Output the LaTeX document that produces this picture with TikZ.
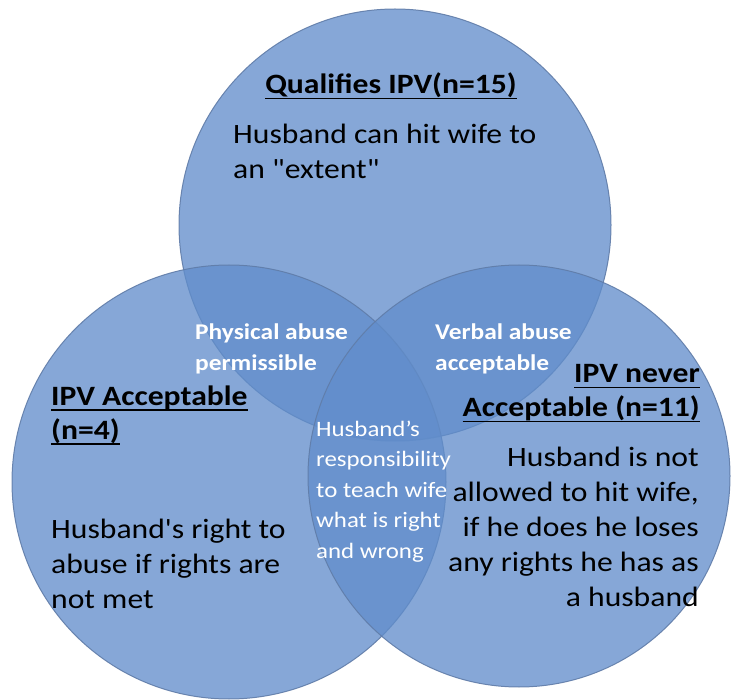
\documentclass[tikz,border=0pt]{standalone}
\usepackage{fontspec}
\setmainfont{Carlito}[Ligatures=TeXOff, FakeStretch=1.13]
\usetikzlibrary{positioning}
\definecolor{vennblue}{RGB}{97,141,203}
\definecolor{vennrim}{RGB}{96,124,168}
\newcommand{\ulbar}[1]{\setbox0\hbox{#1}\rlap{\rule[-5.5pt]{\wd0}{1.8pt}}\box0}

\begin{document}
\begin{tikzpicture}[x=1pt, y=-1pt,
        venn/.style={circle, draw=vennrim, line width=1pt, fill=vennblue, fill opacity=0.77,
                     draw opacity=0.9, inner sep=0pt, minimum size=#1},
        title/.style={font=\fontsize{28}{34}\selectfont\bfseries, inner sep=0pt},
        body/.style={font=\fontsize{28}{35}\selectfont, inner sep=0pt},
        overlap/.style={font=\fontsize{22.5}{31}\selectfont\bfseries, text=white, inner sep=0pt, align=left},
        centre/.style={font=\fontsize{22}{30.5}\selectfont, text=white, inner sep=0pt, align=left}]
    \useasboundingbox (0,0) rectangle (731,700);
    % the three sets
    \node[venn=432pt] (qualifies) at (395,225) {};
    \node[venn=434pt] (acceptable) at (229,482) {};
    \node[venn=422pt] (never) at (519,476) {};
    % titles and texts of the sets
    \node[title, anchor=base] (qualtitle) at (391,94) {\ulbar{Qualifies IPV(n=15)}};
    \node[body, anchor=base west, align=left] (qualtext) at (233,179)
        {Husband can hit wife to\\an "extent"};
    \node[title, anchor=base west, align=left] (acctitle) at (51,439)
        {\ulbar{IPV Acceptable}\\\ulbar{(n=4)}};
    \node[body, anchor=base west, align=left] (acctext) at (51,608)
        {Husband's right to\\abuse if rights are\\not met};
    \node[title, anchor=base east, align=right] (nevertitle) at (700,417)
        {\ulbar{IPV never}\\\ulbar{Acceptable (n=11)}};
    \node[body, anchor=base east, align=right] (nevertext) at (699,606)
        {Husband is not\\allowed to hit wife,\\if he does he loses\\any rights he has as\\a husband};
    % the overlaps
    \node[overlap, anchor=base west] (physical) at (195,371) {Physical abuse\\permissible};
    \node[overlap, anchor=base west] (verbal) at (435,371) {Verbal abuse\\acceptable};
    \node[centre, anchor=base west] (teach) at (316,558)
        {Husband’s\\responsibility\\to teach wife\\what is right\\and wrong};
\end{tikzpicture}
\end{document}
